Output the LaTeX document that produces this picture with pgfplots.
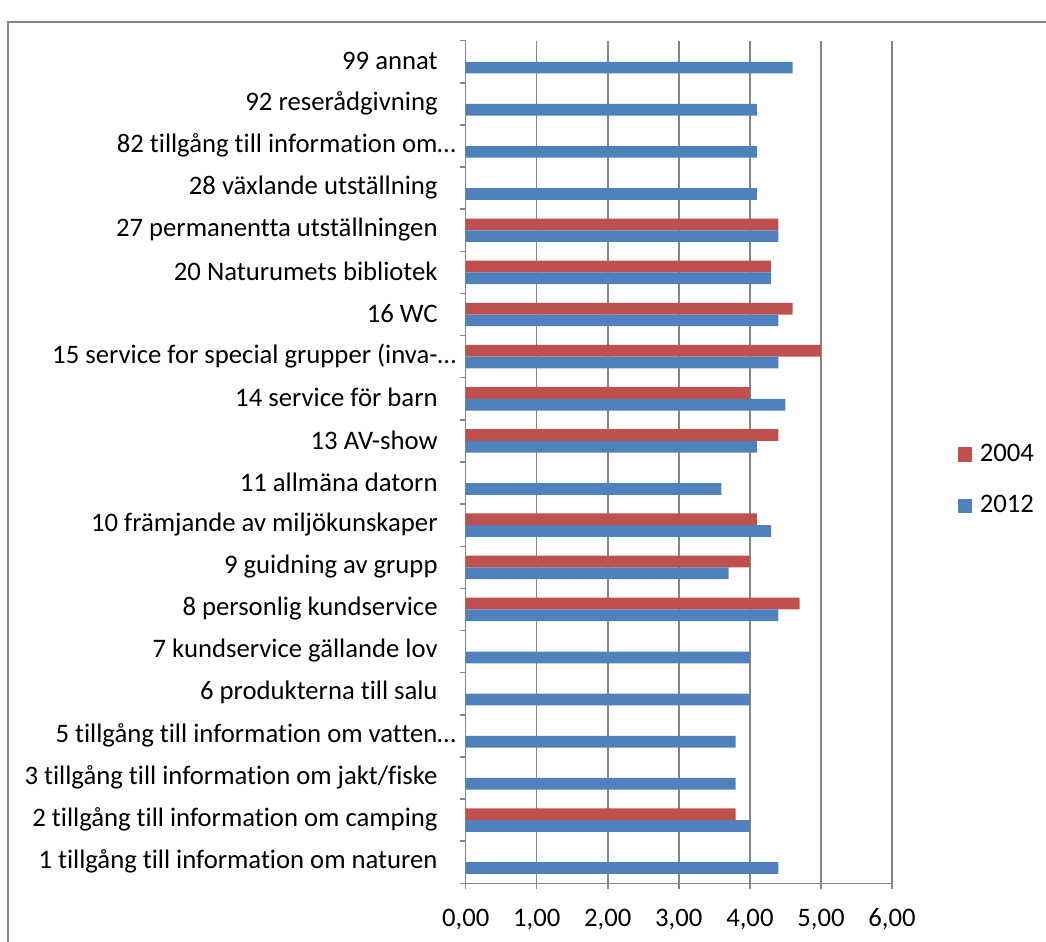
\documentclass[border=0pt]{standalone}
\usepackage{fontspec}
\setmainfont{Carlito}[Ligatures=NoCommon, RawFeature={-liga;-clig}]
\usepackage{pgfplots}
\usepackage{pgfplotstable}
\pgfplotsset{compat=1.18}

\definecolor{ser2004}{HTML}{C0504D}
\definecolor{ser2012}{HTML}{4F81BD}
\definecolor{axgray}{HTML}{868686}

% mean ratings per service, 2012 (all items)
\pgfplotstableread{
pos val
1 4.4
2 4.0
3 3.8
4 3.8
5 4.0
6 4.0
7 4.4
8 3.7
9 4.3
10 3.6
11 4.1
12 4.5
13 4.4
14 4.4
15 4.3
16 4.4
17 4.1
18 4.1
19 4.1
20 4.6
}\ratingsTwelve

% mean ratings per service, 2004 (items asked that year)
\pgfplotstableread{
pos val
2 3.8
7 4.7
8 4.0
9 4.1
11 4.4
12 4.0
13 5.0
14 4.6
15 4.3
16 4.4
}\ratingsFour

\newcommand{\lblfont}{\fontsize{13.35}{16}\selectfont}

\begin{document}
\lblfont
\begin{tikzpicture}
\useasboundingbox (0pt,0pt) rectangle (523pt,471pt);
\draw[axgray, line width=0.6pt] (4pt,-10pt) -- (4pt,460pt) -- (540pt,460pt);
\begin{axis}[
  at={(232.85pt,29.35pt)}, anchor=south west,
  scale only axis, width=213.15pt, height=421.3pt,
  xmin=0, xmax=6, ymin=0.5, ymax=20.5,
  xbar, bar width=0.278,
  axis lines=left,
  axis line style={axgray, line width=0.75pt, -},
  xtick={0,1,...,6},
  minor xtick={0,1,...,6},
  ytick={1,2,...,20},
  minor ytick={0.5,1.5,...,20.5},
  major tick length=0pt,
  minor tick length=3pt,
  tick align=outside,
  tick style={axgray, line width=0.75pt},
  xmajorgrids,
  grid style={axgray, line width=0.75pt},
  tick label style={font=\lblfont},
  xticklabel style={anchor=north, inner sep=0pt, yshift=-12.5pt,
    /pgf/number format/.cd, fixed, fixed zerofill, precision=2, use comma, assume math mode=true},
  yticklabel style={anchor=east, inner sep=0pt, xshift=-13.85pt, yshift=0.5pt},
  yticklabels={
    {1 tillgång till information om naturen},
    {2 tillgång till information om camping},
    {3 tillgång till information om jakt/fiske},
    {5 tillgång till information om vatten\rlap{…}},
    {6 produkterna till salu},
    {7 kundservice gällande lov},
    {8 personlig kundservice},
    {9 guidning av grupp},
    {10 främjande av miljökunskaper},
    {11 allmäna datorn},
    {13 AV-show},
    {14 service för barn},
    {15 service for special grupper (inva-\rlap{…}},
    {16 WC},
    {20 Naturumets bibliotek},
    {27 permanentta utställningen},
    {28 växlande utställning},
    {82 tillgång till information om\rlap{…}},
    {92 reserådgivning},
    {99 annat}},
  legend style={at={(axis description cs:1.1548,0.4782)}, anchor=west,
    draw=none, fill=none, inner sep=0pt, outer sep=0pt, row sep=15pt,
    font=\lblfont, nodes={inner sep=0pt}},
  legend cell align=left,
  legend image code/.code={
    \path (0pt,0pt) -- (10.9pt,0pt);
    \fill[#1, draw=none, overlay] (0pt,-3.5pt) rectangle (7.25pt,3.75pt);
  },
]
\addplot[fill=ser2004, draw=none, bar shift=0.139] table[x=val, y=pos] {\ratingsFour};
\addlegendentry{2004}
\addplot[fill=ser2012, draw=none, bar shift=-0.139] table[x=val, y=pos] {\ratingsTwelve};
\addlegendentry{2012}
\end{axis}
\end{tikzpicture}
\end{document}
